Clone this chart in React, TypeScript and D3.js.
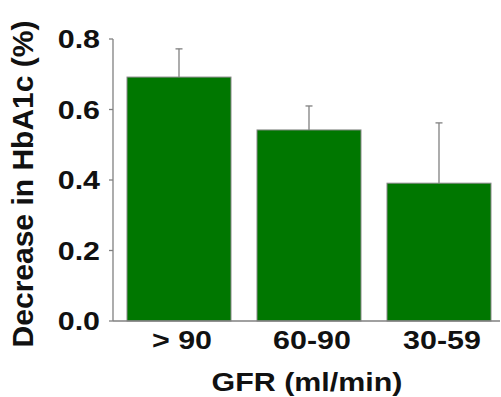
import React from "react";
import * as d3 from "d3";

const categories = ["> 90", "60-90", "30-59"];
const values = [0.692, 0.542, 0.391];
const errors = [0.08, 0.068, 0.171];
const yTicks = [0, 0.2, 0.4, 0.6, 0.8];

export default function App() {
  const W = 501, H = 397;
  const left = 113, bottom = 321, top = 39;
  const x = d3.scaleBand<string>().domain(categories).range([left, 505]).paddingInner(0.2).paddingOuter(0.1077);
  const y = d3.scaleLinear().domain([0, 0.8]).range([bottom, top]);
  const font = "'Liberation Sans', Arial, sans-serif";
  const fs = 26;
  const sx = 1.17;
  return (
    <svg width={W} height={H} style={{ position: "absolute", left: 0, top: 0, background: "#fff" }}>
      {categories.map((c, i) => {
        const cx = x(c)! + x.bandwidth() / 2;
        const ey = y(values[i] + errors[i]);
        return (
          <g key={c}>
            <line x1={cx} x2={cx} y1={y(values[i])} y2={ey} stroke="#808080" strokeWidth={1.3} />
            <line x1={cx - 3.5} x2={cx + 3.5} y1={ey} y2={ey} stroke="#808080" strokeWidth={1.3} />
            <rect x={x(c)} y={y(values[i])} width={x.bandwidth()} height={bottom - y(values[i])} fill="#007700" stroke="#888" strokeWidth={1} />
          </g>
        );
      })}
      <line x1={left} x2={left} y1={top} y2={bottom} stroke="#808080" strokeWidth={1.3} />
      <line x1={left} x2={500} y1={bottom} y2={bottom} stroke="#808080" strokeWidth={1.3} />
      {yTicks.map((t) => (
        <g key={t}>
          <line x1={left - 4} x2={left} y1={y(t)} y2={y(t)} stroke="#808080" strokeWidth={1.3} />
          <text transform={`translate(100,${y(t) + 9}) scale(${sx},1)`} textAnchor="end" fontFamily={font} fontWeight="bold" fontSize={fs} fill="#111">
            {t.toFixed(1)}
          </text>
        </g>
      ))}
      {categories.map((c) => (
        <text key={c} transform={`translate(${x(c)! + x.bandwidth() / 2 + 3},349) scale(${sx},1)`} textAnchor="middle" fontFamily={font} fontWeight="bold" fontSize={fs} fill="#111">
          {c}
        </text>
      ))}
      <text transform={`translate(307,391) scale(${sx},1)`} textAnchor="middle" fontFamily={font} fontWeight="bold" fontSize={fs} fill="#111">
        GFR (ml/min)
      </text>
      <text transform="translate(33,184) rotate(-90)" textAnchor="middle" fontFamily={font} fontWeight="bold" fontSize={30} fill="#111">
        Decrease in HbA1c (%)
      </text>
    </svg>
  );
}
